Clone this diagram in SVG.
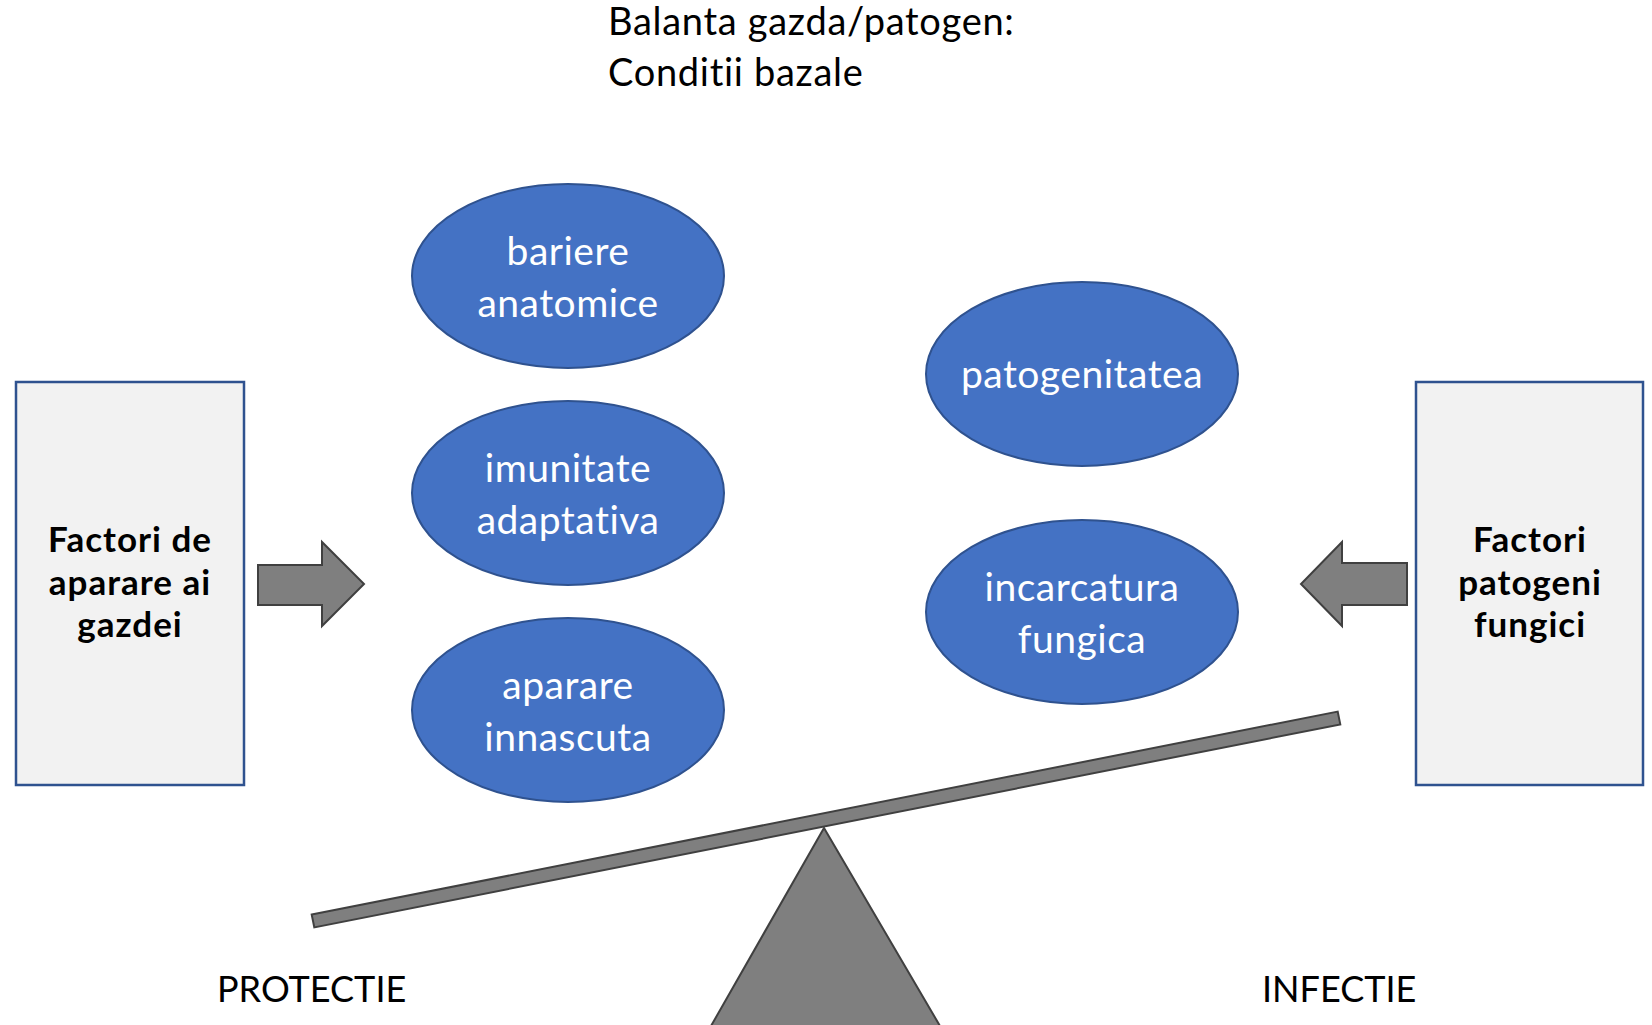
<svg xmlns="http://www.w3.org/2000/svg" width="1652" height="1025" viewBox="0 0 1652 1025">
<style>
text{font-variant-ligatures:none;font-feature-settings:"liga" 0,"clig" 0}
.ell{fill:#4472C4;stroke:#2F528F;stroke-width:2}
.et{font-family:Lato,"Liberation Sans",sans-serif;font-size:39px;letter-spacing:0.5px;fill:#FFFFFF;text-anchor:middle}
.box{fill:#F2F2F2;stroke:#2F528F;stroke-width:2.5}
.bt{font-family:Lato,"Liberation Sans",sans-serif;font-size:35px;letter-spacing:1px;font-weight:bold;fill:#000;text-anchor:middle}
.arr{fill:#7F7F7F;stroke:#404040;stroke-width:2}
.lbl{font-family:Lato,"Liberation Sans",sans-serif;font-size:36px;fill:#000}
.title{font-family:Lato,"Liberation Sans",sans-serif;font-size:38px;letter-spacing:0.7px;fill:#000}
</style>
<rect width="1652" height="1025" fill="#FFFFFF"/>
<g id="title">
<text class="title" x="608" y="35">Balanta gazda/patogen:</text>
<text class="title" x="608" y="86">Conditii bazale</text>
</g>
<g id="host-box">
<rect class="box" x="16" y="382" width="228" height="403"/>
<text class="bt" x="130" y="552">Factori de</text>
<text class="bt" x="130" y="595">aparare ai</text>
<text class="bt" x="130" y="637">gazdei</text>
</g>
<g id="pathogen-box">
<rect class="box" x="1416" y="382" width="227" height="403"/>
<text class="bt" x="1530" y="552">Factori</text>
<text class="bt" x="1530" y="595">patogeni</text>
<text class="bt" x="1530" y="637">fungici</text>
</g>
<g id="bariere">
<ellipse class="ell" cx="568" cy="276" rx="156" ry="92"/>
<text class="et" x="568" y="265">bariere</text>
<text class="et" x="568" y="317">anatomice</text>
</g>
<g id="imunitate">
<ellipse class="ell" cx="568" cy="493" rx="156" ry="92"/>
<text class="et" x="568" y="482">imunitate</text>
<text class="et" x="568" y="534">adaptativa</text>
</g>
<g id="aparare">
<ellipse class="ell" cx="568" cy="710" rx="156" ry="92"/>
<text class="et" x="568" y="699">aparare</text>
<text class="et" x="568" y="751">innascuta</text>
</g>
<g id="patogenitatea">
<ellipse class="ell" cx="1082" cy="374" rx="156" ry="92"/>
<text class="et" x="1082" y="388">patogenitatea</text>
</g>
<g id="incarcatura">
<ellipse class="ell" cx="1082" cy="612" rx="156" ry="92"/>
<text class="et" x="1082" y="601">incarcatura</text>
<text class="et" x="1082" y="653">fungica</text>
</g>
<g id="connectors">
<polygon class="arr" points="258,565 322,565 322,542 364,584 322,626 322,605 258,605"/>
<polygon class="arr" points="1407,563 1342,563 1342,542 1301,584 1342,626 1342,605 1407,605"/>
</g>
<g id="scale">
<polygon class="arr" points="824,828 940,1026 711,1026"/>
<polygon class="arr" points="311.7,914.6 1337.7,711.6 1340.3,724.4 314.3,927.4"/>
</g>
<g id="labels">
<text class="lbl" x="217" y="1002">PROTECTIE</text>
<text class="lbl" x="1262" y="1002">INFECTIE</text>
</g>
</svg>
